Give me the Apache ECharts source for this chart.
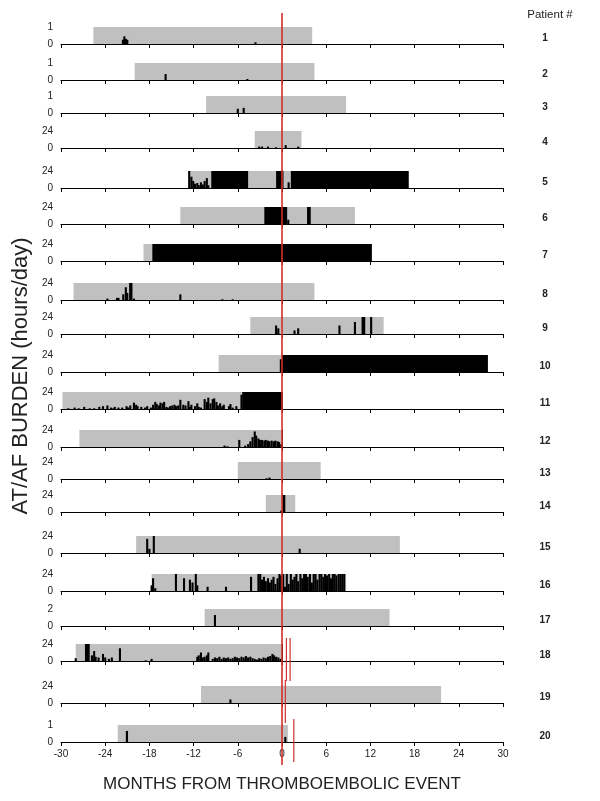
<!DOCTYPE html>
<html>
<head>
<meta charset="utf-8">
<script src="https://cdn.jsdelivr.net/npm/echarts@6/dist/echarts.min.js"></script>
<style>
  html, body { margin: 0; padding: 0; background: #fff; }
  #chart { width: 600px; height: 801px; }
</style>
</head>
<body>
<div id="chart"></div>
<script>
  // one row per patient, months relative to the thromboembolic event
  const patients = ['1', '2', '3', '4', '5', '6', '7', '8', '9', '10',
    '11', '12', '13', '14', '15', '16', '17', '18', '19', '20'];
  const yMax = [1, 1, 1, 24, 24, 24, 24, 24, 24, 24, 24, 24, 24, 24, 24, 24, 2, 24, 24, 1];
  const xTicks = [-30, -24, -18, -12, -6, 0, 6, 12, 18, 24, 30];

  // grey = period covered by device monitoring
  const monitorStart = [-25.6, -20.0, -10.3, -3.7, -12.6, -13.8, -18.8, -28.3, -4.3, -8.6,
    -29.8, -27.5, -6.0, -2.2, -19.8, -17.7, -10.5, -28.0, -11.0, -22.3];
  const monitorEnd = [4.1, 4.4, 8.7, 2.65, 17.2, 9.9, 12.2, 4.4, 13.8, 27.95,
    0, 0, 5.25, 1.8, 16.0, 8.7, 14.6, 0, 21.6, 0.8];

  // solid AT/AF stretches: [from, to, hours/day]
  const afBlocks = [
    [], [], [], [],
    [[-9.6, -4.6, 24], [-0.8, 0.2, 24], [1.2, 17.2, 24]],
    [[-2.4, 0.7, 24], [3.4, 3.9, 24]],
    [[-17.6, 12.2, 24]],
    [[-20.75, -20.3, 24]],
    [[10.8, 11.3, 24]],
    [[-0.3, 0, 18], [0, 27.95, 24]],
    [[-5.4, 0, 24]],
    [], [],
    [[0.05, 0.45, 24]],
    [], [], [],
    [[-26.75, -26.1, 24]],
    [],
    [[-21.2, -20.9, 0.65]]
  ];

  // daily burden spikes: [month, hours/day]
  const afSpikes = [
    [[-21.6, 0.25], [-21.4, 0.45], [-21.2, 0.3], [-21.0, 0.25], [-3.6, 0.1]],
    [[-15.8, 0.35], [-4.7, 0.06]],
    [[-6.0, 0.25], [-5.2, 0.3]],
    [[-3.1, 2], [-2.7, 2], [-1.9, 2], [-0.8, 1], [0.5, 4], [2.2, 2]],
    [[-12.6, 24], [-12.3, 16], [-12.05, 10], [-11.8, 6], [-11.5, 7], [-11.3, 4], [-11.0, 8],
      [-10.75, 5], [-10.5, 10], [-10.2, 14], [-10.0, 4], [0.9, 8]],
    [[0.85, 6]],
    [],
    [[-23.7, 2], [-22.4, 3], [-22.2, 3], [-21.55, 8], [-21.2, 18], [-21.0, 10], [-20.1, 2],
      [-13.8, 8], [-8.1, 1], [-6.7, 1]],
    [[-0.8, 12], [-0.5, 8], [1.7, 5], [2.2, 8], [7.8, 12], [9.9, 17], [12.1, 24]],
    [],
    [[-29.0, 1], [-28.15, 2], [-27.6, 1], [-26.85, 3], [-26.1, 1], [-25.5, 1], [-24.8, 3],
      [-24.3, 4], [-23.7, 5], [-23.2, 2], [-22.9, 1], [-22.7, 3], [-22.2, 2], [-21.7, 2],
      [-21.1, 4], [-20.9, 2], [-20.6, 5], [-20.1, 9], [-19.8, 6], [-19.6, 4], [-19.1, 3],
      [-18.6, 2], [-18.3, 4], [-17.8, 2], [-17.5, 6], [-17.2, 10], [-17.0, 7], [-16.7, 5],
      [-16.5, 9], [-16.2, 8], [-16.0, 10], [-15.7, 3], [-15.5, 2], [-15.2, 4], [-14.9, 5],
      [-14.6, 6], [-14.4, 4], [-14.1, 5], [-13.8, 13], [-13.4, 6], [-13.1, 5], [-12.7, 11],
      [-12.5, 3], [-12.3, 6], [-11.8, 4], [-11.5, 8], [-11.3, 3], [-11.0, 2], [-10.5, 14],
      [-10.2, 10], [-10.0, 16], [-9.7, 8], [-9.4, 14], [-9.2, 15], [-8.9, 10], [-8.7, 5],
      [-8.4, 8], [-8.1, 4], [-7.9, 6], [-7.2, 4], [-7.0, 7], [-6.7, 2], [-6.2, 4], [-5.5, 20]],
    [[-7.8, 2], [-7.4, 1], [-5.8, 10], [-5.0, 2], [-4.6, 4], [-4.3, 8], [-4.0, 14], [-3.7, 22],
      [-3.5, 16], [-3.2, 12], [-3.0, 10], [-2.7, 10], [-2.4, 9], [-2.2, 10], [-1.9, 9],
      [-1.7, 8], [-1.4, 9], [-1.1, 8], [-0.9, 9], [-0.6, 8], [-0.4, 7], [-0.1, 4]],
    [[-2.1, 1], [-1.7, 2]],
    [[-0.1, 2]],
    [[-18.3, 20], [-18.0, 6], [-17.4, 24], [2.4, 6]],
    [[-17.7, 8], [-17.5, 18], [-17.2, 4], [-14.4, 24], [-13.3, 18], [-12.5, 16], [-12.15, 12],
      [-11.7, 24], [-11.5, 8], [-10.1, 6], [-7.6, 6], [-4.2, 20],
      [-3.2, 24], [-2.95, 24], [-2.7, 16], [-2.45, 20], [-2.2, 14], [-1.9, 18], [-1.65, 12],
      [-1.4, 16], [-1.15, 20], [-0.9, 10], [-0.6, 18], [-0.35, 24], [-0.1, 22], [0.16, 24],
      [0.4, 6], [0.65, 24], [0.9, 10], [1.2, 24], [1.45, 16], [1.7, 20], [1.95, 24], [2.2, 14],
      [2.5, 24], [2.75, 18], [3.0, 24], [3.25, 24], [3.5, 20], [3.8, 24], [4.05, 12], [4.3, 24],
      [4.55, 24], [4.8, 16], [5.1, 24], [5.35, 24], [5.6, 20], [5.85, 24], [6.1, 22], [6.4, 24],
      [6.65, 18], [6.9, 24], [7.15, 24], [7.4, 22], [7.7, 24], [7.95, 24], [8.2, 24], [8.45, 24]],
    [[-9.1, 1.3]],
    [[-28.0, 4], [-25.8, 8], [-25.5, 14], [-25.3, 6], [-24.9, 5], [-24.3, 10], [-24.0, 5],
      [-23.5, 3], [-23.1, 5], [-22.0, 18], [-18.5, 1], [-17.7, 3], [-11.5, 6], [-11.3, 8],
      [-11.0, 12], [-10.75, 5], [-10.5, 6], [-10.2, 8], [-10.0, 12], [-9.4, 3], [-9.1, 5],
      [-8.8, 4], [-8.5, 6], [-8.2, 3], [-7.9, 5], [-7.6, 4], [-7.3, 5], [-7.0, 3], [-6.7, 4],
      [-6.4, 6], [-6.1, 5], [-5.8, 4], [-5.5, 6], [-5.2, 5], [-4.9, 7], [-4.6, 5], [-4.3, 6],
      [-4.0, 4], [-3.7, 3], [-3.4, 2], [-3.1, 4], [-2.8, 3], [-2.5, 5], [-2.2, 4], [-1.9, 6],
      [-1.6, 7], [-1.3, 10], [-1.1, 8], [-0.8, 6], [-0.5, 5], [-0.2, 3]],
    [[-7.0, 5]],
    [[0.45, 0.3]]
  ];

  // later events (red marks): patient row, month
  const laterEventPatient = [18, 18, 19, 20];
  const laterEventMonth = [0.6, 1.1, 0.45, 1.6];

  // layout
  const baselines = [44, 80, 113, 148, 188, 224, 261, 300, 334, 372, 409, 447, 479, 512, 553, 591, 626, 661, 703, 742];
  const panelH = 17;
  const plotLeft = 61;
  const plotRight = 97;
  const font = 'Liberation Sans, Arial, sans-serif';
  const grey = '#c0c0c0';
  const red = '#d0302a';

  const chart = echarts.init(document.getElementById('chart'));

  function renderBar(params, api) {
    const p0 = api.coord([api.value(0), api.value(2)]);
    const p1 = api.coord([api.value(1), 0]);
    let x = p0[0];
    let w = p1[0] - p0[0];
    if (w < 2.1) { x = x - (2.1 - w) / 2; w = 2.1; }
    return {
      type: 'rect',
      shape: { x: x, y: p0[1], width: w, height: p1[1] - p0[1] },
      style: { fill: api.value(3) ? '#000' : grey }
    };
  }

  const grids = [];
  const xAxes = [];
  const yAxes = [];
  const series = [];
  const graphics = [];

  patients.forEach((p, i) => {
    const last = i === patients.length - 1;
    grids.push({ left: plotLeft, right: plotRight, top: baselines[i] - panelH, height: panelH });
    xAxes.push({
      gridIndex: i, type: 'value', min: -30, max: 30, interval: 6,
      axisLine: { show: true, lineStyle: { color: '#000', width: 1 } },
      axisTick: { show: true, length: 4, lineStyle: { color: '#000' } },
      axisLabel: { show: last, fontSize: 10, color: '#222', fontFamily: font, margin: 7,
        customValues: xTicks },
      splitLine: { show: false }
    });
    yAxes.push({
      gridIndex: i, type: 'value', min: 0, max: yMax[i], interval: yMax[i],
      axisLine: { show: true, lineStyle: { color: '#000', width: 1 } },
      axisTick: { show: true, length: 4, lineStyle: { color: '#000' } },
      axisLabel: { fontSize: 10, color: '#222', fontFamily: font, margin: 8 },
      splitLine: { show: false }
    });
    const data = [[monitorStart[i], monitorEnd[i], yMax[i], 0]];
    afBlocks[i].forEach(b => data.push([b[0], b[1], b[2], 1]));
    afSpikes[i].forEach(s => data.push([s[0], s[0], s[1], 1]));
    series.push({
      type: 'custom', xAxisIndex: i, yAxisIndex: i, renderItem: renderBar,
      encode: { x: [0, 1], y: 2 }, data: data, silent: true, z: 1
    });
    graphics.push({
      type: 'text', x: 545, y: baselines[i] - 6,
      style: { text: p, fill: '#222', font: 'bold 10px ' + font,
        textAlign: 'center', textVerticalAlign: 'middle', align: 'center', verticalAlign: 'middle' }
    });
  });

  // overlay grid for the red event lines (y in page pixels)
  const ov = patients.length;
  grids.push({ left: plotLeft, right: plotRight, top: 0, height: 801 });
  xAxes.push({ gridIndex: ov, type: 'value', min: -30, max: 30, show: false });
  yAxes.push({ gridIndex: ov, type: 'value', min: 0, max: 801, inverse: true, show: false });
  const redData = [[0, 13, 765, 1.6]];
  laterEventMonth.forEach((m, k) => {
    const r = laterEventPatient[k] - 1;
    redData.push([m, baselines[r] - panelH - 6, baselines[r] + 20, 1.2]);
  });
  series.push({
    type: 'custom', xAxisIndex: ov, yAxisIndex: ov, silent: true, z: 10,
    data: redData,
    renderItem: (params, api) => {
      const a = api.coord([api.value(0), api.value(1)]);
      const b = api.coord([api.value(0), api.value(2)]);
      return {
        type: 'line',
        shape: { x1: a[0], y1: a[1], x2: b[0], y2: b[1] },
        style: { stroke: red, lineWidth: api.value(3) }
      };
    }
  });

  graphics.push({
    type: 'text', x: 550, y: 15,
    style: { text: 'Patient #', fill: '#222', font: '11.5px ' + font,
      textAlign: 'center', textVerticalAlign: 'middle', align: 'center', verticalAlign: 'middle' }
  });
  graphics.push({
    type: 'text', x: 21, y: 376, rotation: Math.PI / 2,
    style: { text: 'AT/AF BURDEN (hours/day)', fill: '#222', font: '22px ' + font,
      textAlign: 'center', textVerticalAlign: 'middle', align: 'center', verticalAlign: 'middle' }
  });
  graphics.push({
    type: 'text', x: 282, y: 784,
    style: { text: 'MONTHS FROM THROMBOEMBOLIC EVENT', fill: '#222', font: '17px ' + font,
      textAlign: 'center', textVerticalAlign: 'middle', align: 'center', verticalAlign: 'middle' }
  });

  chart.setOption({
    animation: false,
    grid: grids,
    xAxis: xAxes,
    yAxis: yAxes,
    series: series,
    graphic: graphics
  });
</script>
</body>
</html>
